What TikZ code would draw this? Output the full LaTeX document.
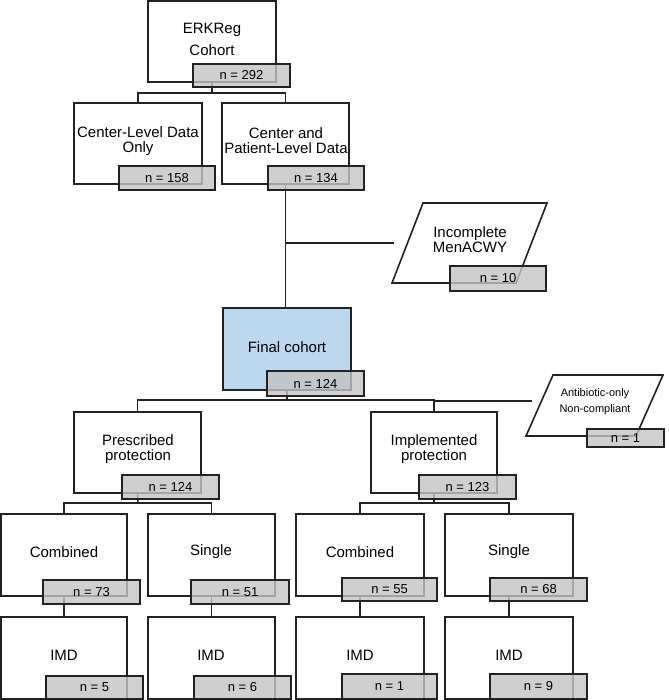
\documentclass[tikz,border=0pt]{standalone}
\usepackage{fontspec}
\setmainfont{Liberation Sans}
\pgfdeclarelayer{bg}
\pgfsetlayers{bg,main}
\definecolor{lineblk}{RGB}{34,34,34}
\definecolor{ngray}{RGB}{196,196,196}
\definecolor{finblue}{RGB}{189,215,238}
\newcommand\bx[6][]{\node[box,minimum width={#5-#3},minimum height={#6-#4},#1] (#2) at ({(#3+#5)/2},{(#4+#6)/2}) {};}
\newcommand\nb[6]{\node[nbox,minimum width={#4-#2},minimum height={#5-#3}] (#1) at ({(#2+#4)/2},{(#3+#5)/2}) {#6};}
\begin{document}
\begin{tikzpicture}[x=1pt,y=-1pt,
  box/.style={draw=lineblk, line width=1.6pt, fill=white, inner sep=0pt},
  nbox/.style={draw=lineblk, line width=1.6pt, fill=ngray, fill opacity=0.8, text opacity=1, inner sep=0pt, font=\fontsize{13}{13}\selectfont},
  lbl/.style={align=center, inner sep=0pt, font=\fontsize{15}{15}\selectfont},
  para/.style={draw=lineblk, line width=1.6pt, fill=white, line join=miter},
  conn/.style={draw=lineblk, line width=1.5pt}]
\useasboundingbox (0,0) rectangle (668,700);
% main boxes
\bx{erk}{148}{1}{276}{82}
\bx{cl}{74}{103}{202}{184}
\bx{cp}{222}{103}{349}{184}
\bx[fill=finblue]{fin}{223}{308}{351}{390}
\bx{pre}{74}{412}{201}{493}
\bx{imp}{371}{412}{497}{493}
\bx{c1}{1}{514}{127}{596}
\bx{s1}{148}{514}{275}{596}
\bx{c2}{296}{514}{424}{596}
\bx{s2}{445}{514}{573}{596}
\bx{i1}{1}{617}{127}{699}
\bx{i2}{148}{617}{275}{699}
\bx{i3}{296}{617}{424}{699}
\bx{i4}{445}{617}{573}{699}
% parallelograms
\draw[para] (423,203) -- (547,203) -- (516,283) -- (392,283) -- cycle;
\draw[para] (553,375) -- (663,375) -- (636,436) -- (526,436) -- cycle;
% labels
\node[lbl, font=\fontsize{15}{22}\selectfont] (terk) at (212,39) {ERKReg\\Cohort};
\node[lbl] (tcl) at (138,141) {Center-Level Data\\Only};
\node[lbl] (tcp) at (286,141) {Center and\\Patient-Level Data};
\node[lbl] (inc) at (470,240) {Incomplete\\MenACWY};
\node[lbl] (tfin) at (287,347) {Final cohort};
\node[lbl, font=\fontsize{11}{16}\selectfont] (abx) at (595,402) {Antibiotic-only\\Non-compliant};
\node[lbl] (tpre) at (138,449) {Prescribed\\protection};
\node[lbl] (timp) at (434,449) {Implemented\\protection};
\node[lbl] (tc1) at (64,552) {Combined};
\node[lbl] (ts1) at (211,552) {Single};
\node[lbl] (tc2) at (360,552) {Combined};
\node[lbl] (ts2) at (509,552) {Single};
\node[lbl] (ti1) at (64,655) {IMD};
\node[lbl] (ti2) at (211,655) {IMD};
\node[lbl] (ti3) at (360,655) {IMD};
\node[lbl] (ti4) at (509,655) {IMD};
% n boxes
\nb{nerk}{193}{64}{290}{87}{n = 292}
\nb{ncl}{119}{166}{215}{190}{n = 158}
\nb{ncp}{268}{166}{364}{190}{n = 134}
\nb{ninc}{450}{266}{546}{291}{n = 10}
\nb{nfin}{267}{371}{364}{396}{n = 124}
\nb{nabx}{587}{429}{664}{447}{n = 1}
\nb{npre}{122}{475}{219}{499}{n = 124}
\nb{nimp}{419}{475}{516}{499}{n = 123}
\nb{nc1}{43}{580}{140}{604}{n = 73}
\nb{ns1}{191}{580}{289}{604}{n = 51}
\nb{nc2}{342}{578}{437}{601}{n = 55}
\nb{ns2}{490}{578}{587}{601}{n = 68}
\nb{ni1}{46}{676}{143}{699}{n = 5}
\nb{ni2}{194}{676}{291}{699}{n = 6}
\nb{ni3}{342}{674}{437}{699}{n = 1}
\nb{ni4}{490}{674}{587}{699}{n = 9}
% connectors
\coordinate (f1) at (212,93);
\coordinate (incend) at (394,243);
\coordinate (f3) at (287,400);
\coordinate (abxend) at (532,401);
\coordinate (f4) at (138,503);
\coordinate (f5) at (434,503);
\begin{pgfonlayer}{bg}
\draw[conn] (erk.south) -- (f1);
\draw[conn] (cl.north) |- (f1) -| (cp.north);
\draw[conn] (cp.south) -- (cp.south |- fin.north);
\draw[conn] (cp.south |- incend) -- (incend);
\draw[conn] (fin.south) -- (f3);
\draw[conn] (pre.north) |- (f3) -| (imp.north);
\draw[conn] (imp.north |- abxend) -- (abxend);
\draw[conn] (pre.south) -- (f4);
\draw[conn] (c1.north) |- (f4) -| (s1.north);
\draw[conn] (imp.south) -- (f5);
\draw[conn] (c2.north) |- (f5) -| (s2.north);
\draw[conn] (c1.south) -- (i1.north);
\draw[conn] (s1.south) -- (i2.north);
\draw[conn] (c2.south) -- (i3.north);
\draw[conn] (s2.south) -- (i4.north);
\end{pgfonlayer}
\end{tikzpicture}
\end{document}
